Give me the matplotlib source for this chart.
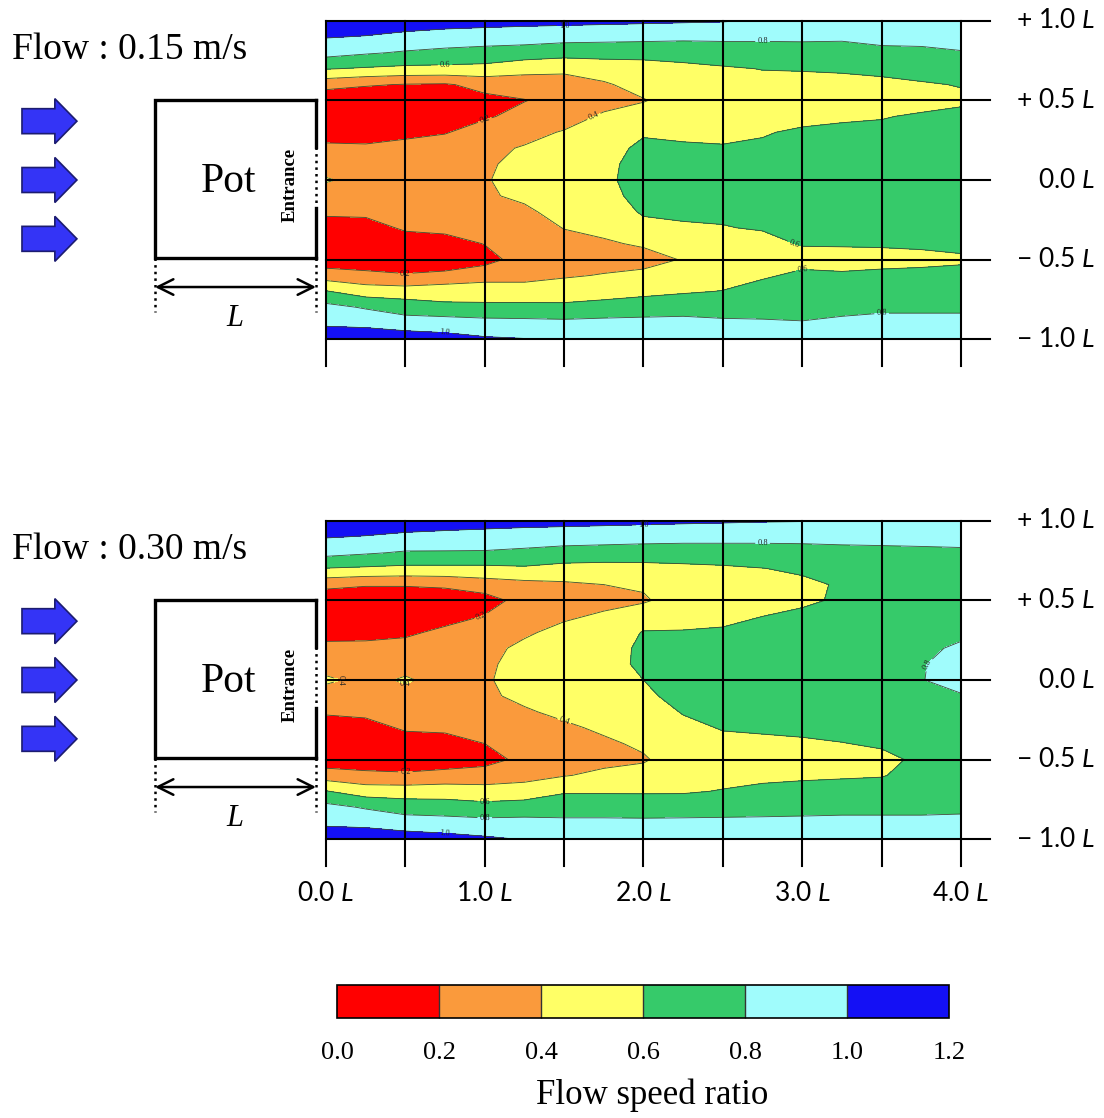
import numpy as np
import matplotlib
matplotlib.use('Agg')
import matplotlib.pyplot as plt
from matplotlib.patches import FancyArrow

plt.rcParams['font.family'] = ['Liberation Serif', 'DejaVu Serif']
plt.rcParams['mathtext.fontset'] = 'custom'
plt.rcParams['mathtext.it'] = 'Lato:italic'
plt.rcParams['mathtext.rm'] = 'Lato'

# measuring stations behind the pot, in units of the pot length L
x_pos = [0.0, 0.25, 0.5, 0.75, 1.0, 1.25, 1.5, 1.75, 2.0,
         2.25, 2.5, 2.75, 3.0, 3.25, 3.5, 3.75, 4.0]
y_pos = [1.0, 0.9, 0.8, 0.7, 0.6, 0.5, 0.4, 0.3, 0.2, 0.1, 0.0,
         -0.1, -0.2, -0.3, -0.4, -0.5, -0.6, -0.7, -0.8, -0.9, -1.0]

# flow speed ratio, one profile per x station (y from +1.0 down to -1.0)
ratio_015 = [
    [1.15, 1.01, 0.87, 0.61, 0.27, 0.05, 0.05, 0.10, 0.25, 0.30, 0.42, 0.30, 0.24, 0.10, 0.05, 0.08, 0.30, 0.61, 0.86, 0.97, 1.12],
    [1.12, 0.99, 0.82, 0.58, 0.22, 0.04, 0.04, 0.09, 0.24, 0.29, 0.33, 0.29, 0.26, 0.09, 0.04, 0.06, 0.26, 0.50, 0.78, 0.96, 1.10],
    [1.10, 0.95, 0.78, 0.555, 0.19, 0.04, 0.04, 0.10, 0.33, 0.32, 0.34, 0.32, 0.30, 0.24, 0.06, 0.05, 0.22, 0.49, 0.71, 0.89, 1.12],
    [1.08, 0.92, 0.75, 0.55, 0.18, 0.05, 0.05, 0.18, 0.36, 0.36, 0.37, 0.36, 0.34, 0.28, 0.08, 0.07, 0.25, 0.52, 0.64, 0.91, 1.06],
    [1.07, 0.90, 0.73, 0.54, 0.26, 0.15, 0.16, 0.34, 0.37, 0.38, 0.39, 0.38, 0.36, 0.32, 0.21, 0.10, 0.37, 0.44, 0.67, 0.86, 1.025],
    [1.06, 0.88, 0.72, 0.45, 0.32, 0.19, 0.30, 0.36, 0.41, 0.44, 0.45, 0.43, 0.37, 0.33, 0.31, 0.32, 0.34, 0.48, 0.65, 0.86, 1.005],
    [1.05, 0.87, 0.68, 0.43, 0.34, 0.30, 0.34, 0.41, 0.47, 0.50, 0.52, 0.50, 0.46, 0.405, 0.35, 0.32, 0.38, 0.50, 0.64, 0.85, 0.97],
    [1.04, 0.86, 0.68, 0.48, 0.38, 0.35, 0.42, 0.48, 0.53, 0.56, 0.57, 0.55, 0.50, 0.44, 0.38, 0.33, 0.41, 0.52, 0.67, 0.86, 0.95],
    [1.03, 0.85, 0.68, 0.50, 0.46, 0.39, 0.48, 0.58, 0.64, 0.66, 0.66, 0.65, 0.62, 0.55, 0.42, 0.34, 0.44, 0.55, 0.70, 0.86, 0.94],
    [1.02, 0.84, 0.68, 0.55, 0.50, 0.48, 0.52, 0.57, 0.62, 0.65, 0.66, 0.65, 0.63, 0.58, 0.48, 0.41, 0.50, 0.58, 0.72, 0.86, 0.93],
    [1.01, 0.84, 0.70, 0.58, 0.53, 0.51, 0.53, 0.57, 0.61, 0.64, 0.65, 0.64, 0.62, 0.595, 0.54, 0.50, 0.53, 0.605, 0.73, 0.83, 0.92],
    [0.98, 0.84, 0.70, 0.605, 0.55, 0.52, 0.53, 0.59, 0.62, 0.65, 0.66, 0.65, 0.63, 0.61, 0.56, 0.53, 0.58, 0.66, 0.74, 0.82, 0.92],
    [0.97, 0.84, 0.71, 0.61, 0.55, 0.52, 0.56, 0.62, 0.65, 0.67, 0.68, 0.67, 0.66, 0.64, 0.61, 0.55, 0.63, 0.69, 0.74, 0.81, 0.91],
    [0.96, 0.83, 0.72, 0.62, 0.55, 0.51, 0.58, 0.63, 0.66, 0.68, 0.69, 0.68, 0.67, 0.65, 0.615, 0.54, 0.62, 0.70, 0.76, 0.83, 0.92],
    [0.95, 0.86, 0.75, 0.64, 0.56, 0.52, 0.59, 0.64, 0.67, 0.69, 0.70, 0.69, 0.68, 0.66, 0.62, 0.54, 0.64, 0.72, 0.77, 0.85, 0.93],
    [0.95, 0.86, 0.76, 0.68, 0.58, 0.54, 0.62, 0.66, 0.68, 0.70, 0.71, 0.70, 0.69, 0.67, 0.63, 0.55, 0.65, 0.72, 0.77, 0.85, 0.93],
    [0.95, 0.86, 0.79, 0.70, 0.61, 0.56, 0.66, 0.68, 0.70, 0.71, 0.72, 0.71, 0.70, 0.68, 0.65, 0.57, 0.66, 0.72, 0.77, 0.85, 0.93],
]

ratio_030 = [
    [1.15, 1.01, 0.86, 0.59, 0.26, 0.05, 0.05, 0.12, 0.26, 0.32, 0.43, 0.32, 0.23, 0.08, 0.05, 0.08, 0.30, 0.61, 0.86, 0.97, 1.12],
    [1.12, 0.99, 0.82, 0.57, 0.22, 0.04, 0.04, 0.13, 0.26, 0.33, 0.35, 0.33, 0.27, 0.09, 0.04, 0.06, 0.26, 0.50, 0.78, 0.96, 1.10],
    [1.10, 0.96, 0.78, 0.55, 0.22, 0.04, 0.04, 0.15, 0.30, 0.34, 0.42, 0.34, 0.30, 0.24, 0.06, 0.05, 0.24, 0.50, 0.71, 0.90, 1.10],
    [1.09, 0.94, 0.78, 0.55, 0.24, 0.06, 0.10, 0.26, 0.32, 0.33, 0.34, 0.33, 0.31, 0.26, 0.08, 0.07, 0.28, 0.50, 0.70, 0.88, 1.07],
    [1.08, 0.92, 0.78, 0.55, 0.30, 0.12, 0.21, 0.32, 0.36, 0.37, 0.38, 0.37, 0.35, 0.31, 0.20, 0.10, 0.33, 0.45, 0.68, 0.86, 1.03],
    [1.07, 0.90, 0.76, 0.57, 0.34, 0.27, 0.32, 0.38, 0.43, 0.46, 0.47, 0.44, 0.38, 0.33, 0.29, 0.27, 0.34, 0.48, 0.70, 0.86, 0.99],
    [1.06, 0.89, 0.73, 0.53, 0.37, 0.33, 0.38, 0.44, 0.49, 0.52, 0.53, 0.50, 0.44, 0.37, 0.33, 0.32, 0.39, 0.58, 0.72, 0.84, 0.95],
    [1.05, 0.88, 0.72, 0.52, 0.40, 0.36, 0.42, 0.48, 0.53, 0.56, 0.57, 0.55, 0.50, 0.43, 0.37, 0.35, 0.44, 0.58, 0.72, 0.84, 0.94],
    [1.04, 0.87, 0.71, 0.53, 0.42, 0.38, 0.50, 0.61, 0.63, 0.62, 0.60, 0.57, 0.52, 0.47, 0.43, 0.38, 0.47, 0.58, 0.71, 0.84, 0.94],
    [1.03, 0.86, 0.71, 0.55, 0.49, 0.48, 0.54, 0.61, 0.65, 0.67, 0.67, 0.65, 0.61, 0.56, 0.52, 0.50, 0.53, 0.58, 0.72, 0.84, 0.94],
    [1.02, 0.86, 0.71, 0.57, 0.52, 0.50, 0.56, 0.62, 0.66, 0.68, 0.68, 0.67, 0.65, 0.61, 0.56, 0.52, 0.54, 0.61, 0.73, 0.84, 0.93],
    [1.01, 0.86, 0.71, 0.595, 0.54, 0.52, 0.60, 0.64, 0.67, 0.69, 0.70, 0.69, 0.67, 0.62, 0.57, 0.53, 0.56, 0.64, 0.74, 0.84, 0.93],
    [1.005, 0.86, 0.72, 0.63, 0.56, 0.575, 0.63, 0.67, 0.69, 0.71, 0.72, 0.71, 0.68, 0.63, 0.58, 0.54, 0.57, 0.66, 0.75, 0.84, 0.93],
    [0.99, 0.86, 0.74, 0.67, 0.62, 0.62, 0.66, 0.69, 0.71, 0.72, 0.73, 0.72, 0.69, 0.65, 0.595, 0.55, 0.58, 0.67, 0.76, 0.84, 0.93],
    [0.98, 0.86, 0.75, 0.70, 0.67, 0.67, 0.70, 0.72, 0.74, 0.76, 0.77, 0.75, 0.72, 0.67, 0.62, 0.56, 0.59, 0.68, 0.76, 0.84, 0.93],
    [0.97, 0.86, 0.76, 0.71, 0.69, 0.69, 0.71, 0.74, 0.76, 0.79, 0.795, 0.77, 0.73, 0.69, 0.66, 0.63, 0.66, 0.70, 0.76, 0.84, 0.93],
    [0.97, 0.86, 0.77, 0.72, 0.70, 0.70, 0.72, 0.76, 0.83, 0.86, 0.85, 0.79, 0.74, 0.70, 0.67, 0.65, 0.67, 0.71, 0.77, 0.84, 0.93],
]

flow_labels = ['Flow : 0.15 m/s', 'Flow : 0.30 m/s']
levels = [0.0, 0.2, 0.4, 0.6, 0.8, 1.0, 1.2]
band_colors = ['#ff0000', '#fa9a3c', '#ffff66', '#36ca6a', '#a0fcfc', '#1410f5']
x_grid = [0.0, 0.5, 1.0, 1.5, 2.0, 2.5, 3.0, 3.5, 4.0]
x_ticks = [0.0, 1.0, 2.0, 3.0, 4.0]
x_tick_labels = ['0.0 $L$', '1.0 $L$', '2.0 $L$', '3.0 $L$', '4.0 $L$']
y_ticks = [1.0, 0.5, 0.0, -0.5, -1.0]
y_tick_labels = ['+ 1.0 $L$', '+ 0.5 $L$', '0.0 $L$', '\u2212 0.5 $L$', '\u2212 1.0 $L$']
arrow_rows = [0.37, 0.0, -0.37]

sans = ['Lato', 'DejaVu Sans']

fig = plt.figure(figsize=(11.04, 11.18), dpi=100)
H = 1118.0


def draw_panel(ax, ratio, title):
    ax.set_xlim(-2.0535, 4.9008)
    ax.set_ylim(-1.635, 1.132)
    ax.axis('off')

    Z = np.array(ratio).T
    cf = ax.contourf(x_pos, y_pos, Z, levels=levels, colors=band_colors, zorder=1)
    cs = ax.contour(x_pos, y_pos, Z, levels=levels[1:-1], colors='#3e4a32',
                    linewidths=0.6, zorder=2)
    ax.clabel(cs, fmt='%.1f', fontsize=6, inline=True, inline_spacing=2,
              colors='#222222')

    # grid over the measuring field
    for gx in x_grid:
        ax.plot([gx, gx], [1.0, -1.17], color='black', lw=1.5, zorder=3)
    for gy, lab in zip(y_ticks, y_tick_labels):
        ax.plot([0.0, 4.18], [gy, gy], color='black', lw=1.5, zorder=3)
        ax.text(4.844, gy, lab, ha='right', va='center', fontsize=19,
                family=sans)

    # the pot with its open side facing downstream
    xl, xr, yt, yb = -1.077, -0.063, 0.5, -0.49
    ax.plot([xr, xl, xl, xr], [yt, yt, yb, yb], color='black', lw=2.4,
            solid_joinstyle='miter')
    ax.plot([xr, xr], [yt, 0.21], color='black', lw=2.4)
    ax.plot([xr, xr], [-0.176, yb], color='black', lw=2.4)
    ax.plot([xr, xr], [0.21, -0.176], color='black', lw=1.8, ls=':')
    ax.text(-0.617, -0.01, 'Pot', fontsize=30, ha='center', va='center')
    ax.text(-0.227, -0.03, 'Entrance', fontsize=13.5, fontweight='bold',
            rotation=90, ha='center', va='center')

    # pot length
    ax.plot([xl, xl], [yb, -0.83], color='black', lw=1.8, ls=':')
    ax.plot([xr, xr], [yb, -0.83], color='black', lw=1.8, ls=':')
    ax.annotate('', xy=(xr, -0.673), xytext=(xl, -0.673),
                arrowprops=dict(arrowstyle='<->', lw=1.8, mutation_scale=28,
                                shrinkA=0, shrinkB=0))
    ax.text(-0.573, -0.87, 'L', fontsize=22, style='italic', ha='center',
            va='center')

    # incoming flow
    for ay in arrow_rows:
        ax.add_patch(FancyArrow(-1.915, ay, 0.346, 0, width=0.157,
                                head_width=0.283, head_length=0.139,
                                length_includes_head=True, fc='#3434f6',
                                ec='#1c1c70', lw=1.2))
    ax.text(-1.978, 0.82, title, fontsize=27, ha='left', va='center')
    return cf


ax1 = fig.add_axes([0, 1 - 440 / H, 1, 440 / H])
cf = draw_panel(ax1, ratio_015, flow_labels[0])

ax2 = fig.add_axes([0, 1 - 940 / H, 1, 440 / H])
draw_panel(ax2, ratio_030, flow_labels[1])
for tx, lab in zip(x_ticks, x_tick_labels):
    ax2.text(tx, -1.34, lab, ha='center', va='center', fontsize=19,
             family=sans)

# colour scale
cax = fig.add_axes([337 / 1104, 1 - 1018 / H, 612 / 1104, 33 / H])
cbar = fig.colorbar(cf, cax=cax, orientation='horizontal', drawedges=True,
                    ticks=levels)
cbar.outline.set_linewidth(1.2)
cbar.dividers.set_color('#333333')
cbar.dividers.set_linewidth(1.0)
cax.set_xticklabels(['%.1f' % v for v in levels], fontsize=19)
cax.tick_params(length=0, pad=17)
fig.text(652 / 1104, 1 - 1095 / H, 'Flow speed ratio', fontsize=25,
         ha='center', va='center')

fig.savefig('out.png', dpi=100)
